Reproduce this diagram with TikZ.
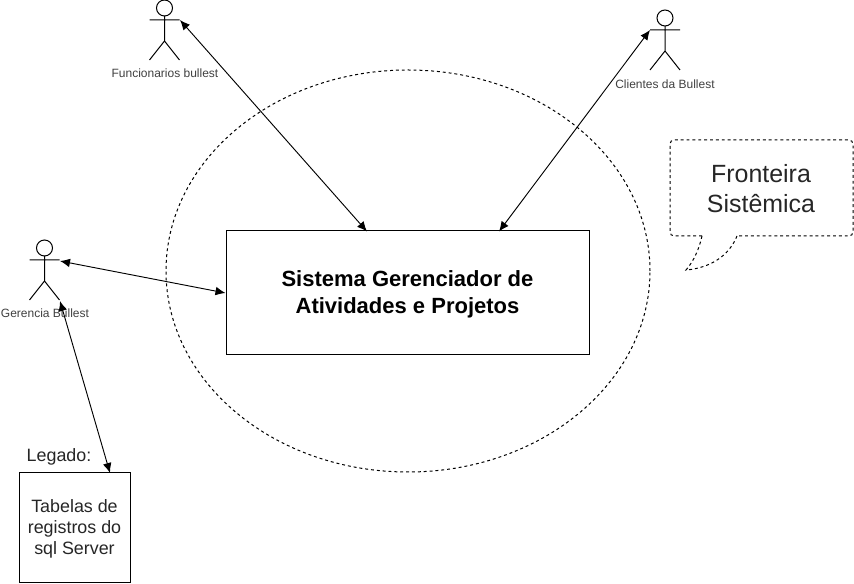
\documentclass[tikz,border=0pt]{standalone}
\usepackage{fontspec}
\setmainfont{Liberation Sans}
\usetikzlibrary{arrows.meta, shapes.geometric}

\tikzset{
  actorlabel/.style={font=\fontsize{9pt}{11pt}\selectfont, text=black!75, inner sep=0pt},
  boxtext/.style={draw, line width=0.75pt, align=center, inner sep=0pt, text=black!85},
  plaintext/.style={font=\fontsize{13.4pt}{16pt}\selectfont, align=center, inner sep=0pt, text=black!85},
  link/.style={{Latex[length=7.5pt,width=6.5pt]}-{Latex[length=7.5pt,width=6.5pt]}, line width=0.7pt},
  dashline/.style={line width=0.75pt, dash pattern=on 2.2pt off 2.2pt},
  actor/.pic={
    \draw[line width=0.75pt] (0,-12) circle (8);
    \draw[line width=0.75pt] (-15,0) -- (15,0) (0,-4) -- (0,21) (-15,40) -- (0,21) -- (15,40);
  }
}

\begin{document}
\begin{tikzpicture}[x=0.75pt, y=-0.75pt]
  \useasboundingbox (0,0) rectangle (854,584);

  % system boundary
  \node[draw, ellipse, dashline, minimum width=363pt, minimum height=301.5pt, inner sep=0pt] (fronteira) at (408,271) {};

  % actors
  \pic at (164.5,20) {actor};
  \pic at (665,30) {actor};
  \pic at (44.5,260) {actor};
  \coordinate (funarm) at (180,20);
  \coordinate (cliarm) at (650,30);
  \coordinate (gerarm) at (60,261);
  \coordinate (gerleg) at (60,301);
  \node[actorlabel] (funlabel) at (165,73) {Funcionarios bullest};
  \node[actorlabel] (clilabel) at (665,84) {Clientes da Bullest};
  \node[actorlabel] (gerlabel) at (45,313) {Gerencia Bullest};

  % boxes
  \node[boxtext, minimum width=272.25pt, minimum height=93pt, text=black] (sistema) at (407.5,293) {};
  \node[font=\fontsize{16.5pt}{20pt}\selectfont\bfseries, align=center, inner sep=0pt] (sistemalabel) at (407.5,294) {Sistema Gerenciador de\\Atividades e Projetos};
  \node[boxtext, minimum width=83.25pt, minimum height=82.5pt] (tabelas) at (74.5,528) {};
  \node[plaintext] (tabelaslabel) at (74.5,529) {Tabelas de\\registros do\\sql Server};
  \node[plaintext] (legado) at (59,457) {Legado:};

  % callout
  \draw[dashline, rounded corners=3pt] (702,236) -- (670,236) -- (670,140) -- (853,140) -- (853,236) -- (737,236);
  \draw[dashline] (702,236) .. controls (699,250) and (693,262) .. (686,270) .. controls (710,268) and (729,256) .. (737,236);
  \node[plaintext, font=\fontsize{18.7pt}{22.5pt}\selectfont] (fronteiralabel) at (761,189) {Fronteira\\Sistêmica};

  % connectors
  \draw[link] (funarm) -- (367,231.5);
  \draw[link] (cliarm) -- (499,231.5);
  \draw[link] (gerarm) -- (sistema.west |- 0,293);
  \draw[link] (gerleg) -- (110,473);
\end{tikzpicture}
\end{document}
